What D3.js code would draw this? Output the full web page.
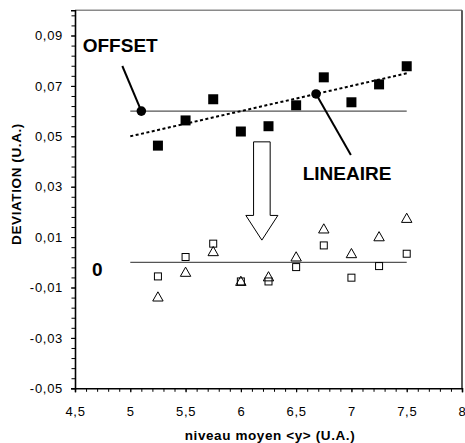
<!DOCTYPE html>
<html>
<head>
<meta charset="utf-8">
<script src="https://cdn.jsdelivr.net/npm/d3@7"></script>
<style>
  body { margin: 0; background: #fff; }
  svg { display: block; font-family: Arial, "Liberation Sans", sans-serif; }
  .tick-label { font-size: 13px; letter-spacing: 0.7px; fill: #000; }
  .axis-title { font-size: 13.5px; font-weight: bold; letter-spacing: 0.6px; fill: #000; }
  .annot { font-size: 19px; font-weight: bold; fill: #000; }
</style>
</head>
<body>
<div id="chart"></div>
<script>
// niveau moyen <y>
var levels = [5.25, 5.5, 5.75, 6, 6.25, 6.5, 6.75, 7, 7.25, 7.5];
// raw deviation (filled squares)
var rawDev = [0.0463, 0.0563, 0.0647, 0.0519, 0.0540, 0.0623, 0.0734, 0.0635, 0.0706, 0.0778];
// corrected, open squares
var corrSquares = [-0.0056, 0.0021, 0.0074, -0.0076, -0.0076, -0.0019, 0.0067, -0.0061, -0.0015, 0.0034];
// corrected, triangles
var corrTriangles = [-0.0137, -0.0039, 0.0043, -0.0075, -0.0057, 0.0022, 0.0133, 0.0035, 0.0102, 0.0175];

// reference lines
var offsetLine = [[5, 0.06], [7.5, 0.06]];
var linearLine = [[5, 0.05], [7.5, 0.075]];
var zeroLine = [[5, 0], [7.5, 0]];

var xTicks = [4.5, 5, 5.5, 6, 6.5, 7, 7.5, 8];
var yTicks = [-0.05, -0.03, -0.01, 0.01, 0.03, 0.05, 0.07, 0.09];

var W = 465, H = 443;
// note: "top" is taken by window.top, so use other names
var pLeft = 75, pRight = 462, pTop = 10.3, pBottom = 388.3;

var svg = d3.select("#chart").append("svg")
    .attr("width", W)
    .attr("height", H);

var x = d3.scaleLinear().domain([4.5, 8]).range([pLeft, pRight]);
var y = d3.scaleLinear().domain([-0.05, 0.1]).range([pBottom, pTop]);

var fmt = function (v) { return String(+v.toFixed(2)).replace(".", ","); };
var fmtX = function (v) { return String(v).replace(".", ","); };

// plot area border (top / right)
svg.append("line").attr("x1", pLeft).attr("x2", pRight).attr("y1", pTop).attr("y2", pTop)
    .attr("stroke", "#8a8a8a").attr("stroke-width", 1.5);
svg.append("line").attr("x1", pRight).attr("x2", pRight).attr("y1", pTop).attr("y2", pBottom)
    .attr("stroke", "#4a4a4a").attr("stroke-width", 1.8);

// minor ticks
var yMinor = d3.range(0, 38).map(function (i) { return -0.05 + i * 0.004; });
var xMinor = d3.range(0, 36).map(function (i) { return 4.5 + i * 0.1; });

svg.append("g")
    .attr("transform", "translate(" + pLeft + ",0)")
    .call(d3.axisLeft(y).tickValues(yMinor).tickSize(3.5).tickFormat(""))
    .call(function (g) { g.select(".domain").remove(); });

svg.append("g")
    .attr("transform", "translate(0," + pBottom + ")")
    .call(d3.axisBottom(x).tickValues(xMinor).tickSize(3.5).tickFormat(""))
    .call(function (g) { g.select(".domain").remove(); });

// major axes
var axisLeft = d3.axisLeft(y).tickValues(yTicks).tickSize(4).tickPadding(8).tickFormat(fmt);
var gy = svg.append("g")
    .attr("transform", "translate(" + pLeft + ",0)")
    .call(axisLeft);
gy.attr("font-size", null).attr("font-family", null);
gy.selectAll("text").attr("class", "tick-label");

var axisBottom = d3.axisBottom(x).tickValues(xTicks).tickSize(4).tickPadding(14).tickFormat(fmtX);
var gx = svg.append("g")
    .attr("transform", "translate(0," + pBottom + ")")
    .call(axisBottom);
gx.attr("font-size", null).attr("font-family", null);
gx.selectAll("text").attr("class", "tick-label");

svg.selectAll(".domain").attr("stroke", "#000").attr("stroke-width", 1.6);
svg.selectAll(".tick line").attr("stroke", "#000").attr("stroke-width", 1);

// axis titles
svg.append("text")
    .attr("class", "axis-title")
    .attr("transform", "translate(21,184) rotate(-90)")
    .attr("text-anchor", "middle")
    .text("DEVIATION (U.A.)");

svg.append("text")
    .attr("class", "axis-title")
    .attr("x", 270)
    .attr("y", 440)
    .attr("text-anchor", "middle")
    .text("niveau moyen <y> (U.A.)");

var line = d3.line().x(function (d) { return x(d[0]); }).y(function (d) { return y(d[1]); });

// reference lines
svg.append("path").datum(offsetLine).attr("d", line)
    .attr("stroke", "#555").attr("stroke-width", 1.2).attr("fill", "none");
svg.append("path").datum(zeroLine).attr("d", line)
    .attr("stroke", "#555").attr("stroke-width", 1.2).attr("fill", "none");
svg.append("path").datum(linearLine).attr("d", line)
    .attr("stroke", "#000").attr("stroke-width", 2).attr("stroke-dasharray", "3,2.5").attr("fill", "none");

// raw points
svg.selectAll(".raw")
    .data(levels)
  .enter().append("rect")
    .attr("class", "raw")
    .attr("x", function (d) { return x(d) - 5; })
    .attr("y", function (d, i) { return y(rawDev[i]) - 5; })
    .attr("width", 10)
    .attr("height", 10)
    .attr("fill", "#000");

// open squares
svg.selectAll(".osq")
    .data(levels)
  .enter().append("rect")
    .attr("class", "osq")
    .attr("x", function (d) { return x(d) - 3.5; })
    .attr("y", function (d, i) { return y(corrSquares[i]) - 3.5; })
    .attr("width", 7)
    .attr("height", 7)
    .attr("fill", "none")
    .attr("stroke", "#000")
    .attr("stroke-width", 1);

// triangles
svg.selectAll(".tri")
    .data(levels)
  .enter().append("path")
    .attr("class", "tri")
    .attr("transform", function (d, i) { return "translate(" + x(d) + "," + y(corrTriangles[i]) + ")"; })
    .attr("d", "M0,-5L5.2,4.2L-5.2,4.2Z")
    .attr("fill", "none")
    .attr("stroke", "#000")
    .attr("stroke-width", 1);

// annotations (in data units)
var offsetDot = [5.1, 0.06], offsetFrom = [4.928, 0.0779];
var linDot = [6.68, 0.0668], linFrom = [6.995, 0.0426];

svg.append("path").datum([offsetFrom, offsetDot]).attr("d", line)
    .attr("stroke", "#000").attr("stroke-width", 2);
svg.append("path").datum([linFrom, linDot]).attr("d", line)
    .attr("stroke", "#000").attr("stroke-width", 2);
svg.append("circle").attr("cx", x(offsetDot[0])).attr("cy", y(offsetDot[1])).attr("r", 4.8).attr("fill", "#000");
svg.append("circle").attr("cx", x(linDot[0])).attr("cy", y(linDot[1])).attr("r", 4.8).attr("fill", "#000");

svg.append("text").attr("class", "annot").attr("x", x(4.57)).attr("y", y(0.0836)).text("OFFSET");
svg.append("text").attr("class", "annot").attr("x", x(6.559)).attr("y", y(0.0327)).text("LINEAIRE");
svg.append("text").attr("class", "annot").attr("x", x(4.654)).attr("y", y(-0.0054)).text("0");

// block arrow
var ax = 6.19, shaftW = 0.075, headW = 0.145;
var arrowPts = [
    [ax - shaftW, 0.0478], [ax + shaftW, 0.0478], [ax + shaftW, 0.0186],
    [ax + headW, 0.0186], [ax, 0.0088], [ax - headW, 0.0186], [ax - shaftW, 0.0186]
];
svg.append("path")
    .attr("d", line(arrowPts) + "Z")
    .attr("fill", "#fff")
    .attr("stroke", "#000")
    .attr("stroke-width", 1);
</script>
</body>
</html>
